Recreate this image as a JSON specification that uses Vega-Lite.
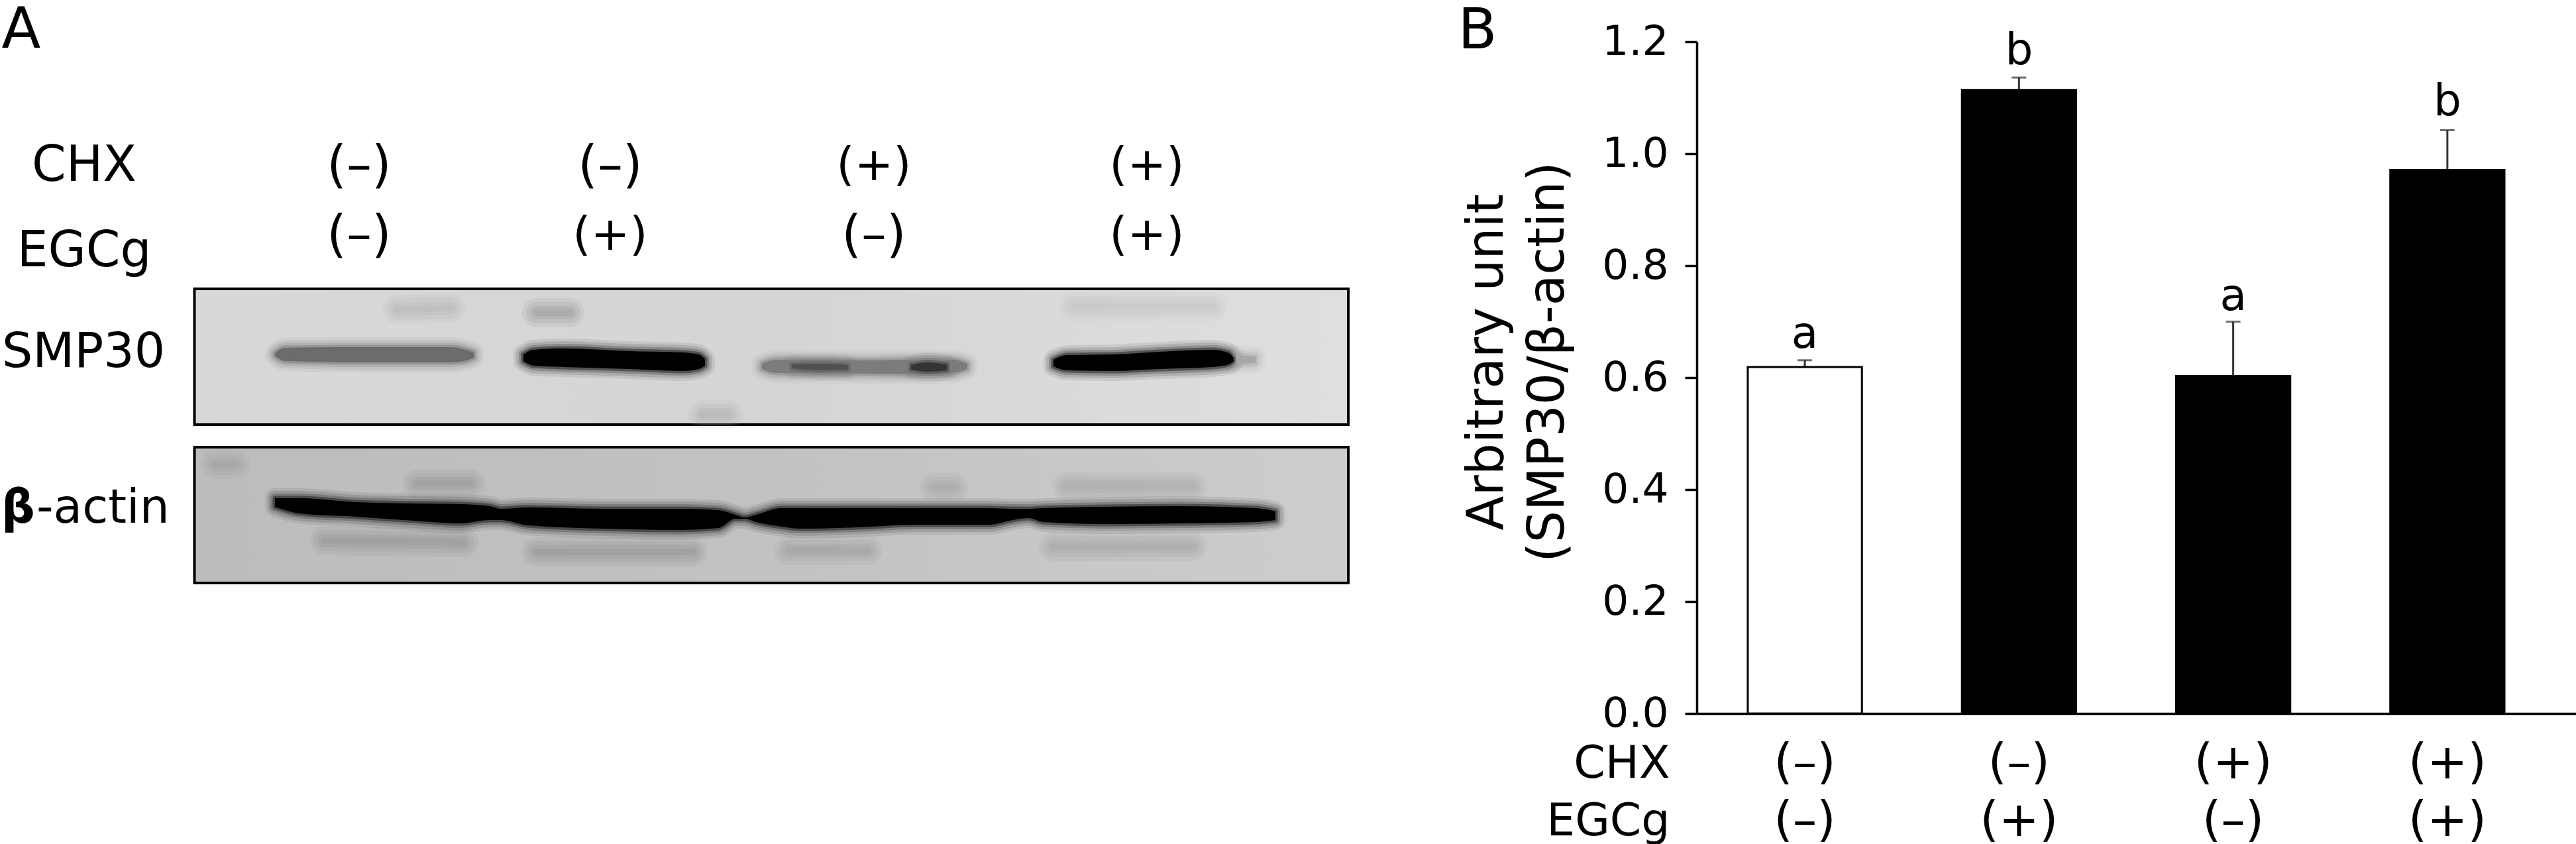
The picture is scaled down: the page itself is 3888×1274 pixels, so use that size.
{
"$schema":"https://vega.github.io/schema/vega-lite/v6.json",
"padding":0,"background":"white","spacing":261,"bounds":"flush",
"config":{"font":"DejaVu Sans","view":{"stroke":null}},
"datasets":{
"panelSmp":[{"x0":29.35,"x1":203.5,"y0":43.6,"y1":64.1}],
"panelActin":[{"x0":29.35,"x1":203.5,"y0":67.5,"y1":88.0}],
"patches":[
{"name":"smpSmear1","x":60,"mid":46.7},{"name":"smpSmear1","x":68,"mid":46.5},
{"name":"smpSmear2","x":81,"mid":47.2},{"name":"smpSmear2","x":86,"mid":47.2},
{"name":"smpSmear3","x":106,"mid":62.6},{"name":"smpSmear3","x":110,"mid":62.6},
{"name":"smpSmear4","x":162,"mid":46.3},{"name":"smpSmear4","x":183,"mid":46.3},
{"name":"actinSmear1","x":49,"mid":81.6},{"name":"actinSmear1","x":70,"mid":81.9},
{"name":"actinSmear2","x":81,"mid":83.3},{"name":"actinSmear2","x":104.5,"mid":83.3},
{"name":"actinSmear3","x":119,"mid":83.1},{"name":"actinSmear3","x":131,"mid":83.1},
{"name":"actinSmear4","x":159,"mid":82.5},{"name":"actinSmear4","x":180,"mid":82.5},
{"name":"actinSmear5","x":63,"mid":73},{"name":"actinSmear5","x":71,"mid":73},
{"name":"actinSmear6","x":141,"mid":73.6},{"name":"actinSmear6","x":144,"mid":73.6},
{"name":"actinSmear7","x":161,"mid":73.4},{"name":"actinSmear7","x":180,"mid":73.4},
{"name":"actinSmear8","x":32.5,"mid":70.1},{"name":"actinSmear8","x":35.5,"mid":70.1}],
"bands":[
{"name":"smp1","x":41.5,"top":53.3,"bottom":53.7},{"name":"smp1","x":43,"top":52.5,"bottom":54.5},{"name":"smp1","x":55,"top":52.4,"bottom":54.7},{"name":"smp1","x":68,"top":52.4,"bottom":54.7},{"name":"smp1","x":70,"top":52.7,"bottom":54.5},{"name":"smp1","x":71.5,"top":53.2,"bottom":54},
{"name":"smp2","x":79,"top":53.5,"bottom":54.5},{"name":"smp2","x":80.5,"top":52.8,"bottom":55.2},{"name":"smp2","x":85,"top":52.6,"bottom":55.4},{"name":"smp2","x":95,"top":53,"bottom":55.7},{"name":"smp2","x":103,"top":53.2,"bottom":56},{"name":"smp2","x":105.5,"top":53.5,"bottom":55.7},{"name":"smp2","x":106.4,"top":54.2,"bottom":55.2},
{"name":"smp3","x":115,"top":54.9,"bottom":55.7},{"name":"smp3","x":117,"top":54.3,"bottom":56.3},{"name":"smp3","x":130,"top":54.4,"bottom":56.4},{"name":"smp3","x":138,"top":54.3,"bottom":56.5},{"name":"smp3","x":144,"top":54.3,"bottom":56.3},{"name":"smp3","x":146,"top":54.9,"bottom":55.7},
{"name":"smp3a","x":119.5,"top":55,"bottom":55.6},{"name":"smp3a","x":124,"top":54.9,"bottom":55.9},{"name":"smp3a","x":128,"top":55.1,"bottom":55.8},
{"name":"smp3b","x":137.5,"top":55.1,"bottom":55.8},{"name":"smp3b","x":140,"top":54.7,"bottom":56.1},{"name":"smp3b","x":143,"top":55,"bottom":55.9},
{"name":"smp4tail","x":186,"top":53.5,"bottom":55},{"name":"smp4tail","x":189.5,"top":53.8,"bottom":54.8},
{"name":"smp4","x":159,"top":54.3,"bottom":55.3},{"name":"smp4","x":161,"top":53.6,"bottom":55.9},{"name":"smp4","x":168,"top":53.5,"bottom":56},{"name":"smp4","x":175,"top":53.1,"bottom":55.7},{"name":"smp4","x":183,"top":52.8,"bottom":55.4},{"name":"smp4","x":185.5,"top":53.3,"bottom":55},{"name":"smp4","x":186.2,"top":54,"bottom":54.6},
{"name":"actin","x":41.5,"top":75.2,"bottom":76.5},{"name":"actin","x":45.2,"top":75.2,"bottom":77.5},{"name":"actin","x":53.8,"top":75.8,"bottom":78},{"name":"actin","x":62.4,"top":76,"bottom":78.6},{"name":"actin","x":69.3,"top":76.1,"bottom":79},{"name":"actin","x":73.9,"top":76.4,"bottom":78.5},{"name":"actin","x":75.6,"top":76.8,"bottom":78.5},{"name":"actin","x":79.7,"top":76.6,"bottom":79.3},{"name":"actin","x":91.1,"top":76.8,"bottom":79.8},{"name":"actin","x":102.6,"top":76.8,"bottom":80},{"name":"actin","x":108.4,"top":77,"bottom":79.7},{"name":"actin","x":111,"top":77.7,"bottom":78.3},{"name":"actin","x":112.4,"top":78.1,"bottom":78.3},{"name":"actin","x":114.1,"top":77.7,"bottom":78.8},{"name":"actin","x":118,"top":76.7,"bottom":79.5},{"name":"actin","x":120.7,"top":76.7,"bottom":79.8},{"name":"actin","x":129.4,"top":76.7,"bottom":79.6},{"name":"actin","x":138,"top":76.7,"bottom":79.2},{"name":"actin","x":149.4,"top":76.7,"bottom":79.2},{"name":"actin","x":152.9,"top":76.8,"bottom":78.5},{"name":"actin","x":155.2,"top":76.8,"bottom":78.2},{"name":"actin","x":157.5,"top":76.7,"bottom":78.8},{"name":"actin","x":166.7,"top":76.5,"bottom":79.1},{"name":"actin","x":178.1,"top":76.4,"bottom":79},{"name":"actin","x":189.6,"top":76.7,"bottom":78.8},{"name":"actin","x":192.5,"top":77.2,"bottom":78.5}],
"bars":[
{"group":"(–)|(–)","kind":"control","mean":0.619,"upper":0.631,"letter":"a","letterAt":0.677},
{"group":"(–)|(+)","kind":"treated","mean":1.114,"upper":1.136,"letter":"b","letterAt":1.184},
{"group":"(+)|(–)","kind":"treated","mean":0.603,"upper":0.70,"letter":"a","letterAt":0.744},
{"group":"(+)|(+)","kind":"treated","mean":0.971,"upper":1.042,"letter":"b","letterAt":1.092}],
"panelLetters":[{"text":"A","x":3.2,"y":7.2},{"text":"B","x":223,"y":7.3}],
"rowLabels":[{"text":"CHX","x":12.7,"y":25.1},{"text":"EGCg","x":12.7,"y":38}],
"dashLabels":[
{"text":"(–)","x":54.2,"y":25.1},{"text":"(–)","x":92.1,"y":25.1},
{"text":"(–)","x":54.2,"y":35.6},{"text":"(–)","x":131.9,"y":35.6}],
"plusLabels":[
{"text":"(+)","x":131.9,"y":25.1},{"text":"(+)","x":173.1,"y":25.1},
{"text":"(+)","x":92.1,"y":35.6},{"text":"(+)","x":173.1,"y":35.6}],
"smpLabel":[{"text":"SMP30","x":0.3,"y":53.2}],
"actinLabel":[{"text":"-actin","x":5.5,"y":76.8}],
"betaLabel":[{"text":"β","x":0.2,"y":76.8}]
},
"hconcat":[
{"width":2300,"height":1274,
"encoding":{
 "x":{"field":"x","type":"quantitative","scale":{"domain":[0,230],"nice":false,"zero":false},"axis":null},
 "y":{"field":"y","type":"quantitative","scale":{"domain":[127.4,0],"nice":false,"zero":false},"axis":null},
 "text":{"field":"text"}},
"layer":[
{"data":{"name":"panelSmp"},"mark":{"type":"rect","stroke":"black","strokeWidth":4,"fill":{"gradient":"linear","x1":0,"x2":1,"y1":0,"y2":0,"stops":[{"offset":0,"color":"#d8d8d8"},{"offset":0.5,"color":"#d5d5d5"},{"offset":1,"color":"#dfdfdf"}]}},
 "encoding":{"x":{"field":"x0","type":"quantitative","scale":{"domain":[0,230],"nice":false,"zero":false},"axis":null},"x2":{"field":"x1"},
 "y":{"field":"y0","type":"quantitative","scale":{"domain":[127.4,0],"nice":false,"zero":false},"axis":null},"y2":{"field":"y1"},"text":null}},
{"data":{"name":"panelActin"},"mark":{"type":"rect","stroke":"black","strokeWidth":4,"fill":{"gradient":"linear","x1":0,"x2":1,"y1":0,"y2":0,"stops":[{"offset":0,"color":"#bcbcbc"},{"offset":0.5,"color":"#c2c2c2"},{"offset":1,"color":"#cdcdcd"}]}},
 "encoding":{"x":{"field":"x0","type":"quantitative","scale":{"domain":[0,230],"nice":false,"zero":false},"axis":null},"x2":{"field":"x1"},
 "y":{"field":"y0","type":"quantitative","scale":{"domain":[127.4,0],"nice":false,"zero":false},"axis":null},"y2":{"field":"y1"},"text":null}},
{"data":{"name":"patches"},
 "encoding":{"x":{"field":"x","type":"quantitative","scale":{"domain":[0,230],"nice":false,"zero":false},"axis":null},
 "y":{"field":"mid","type":"quantitative","scale":{"domain":[127.4,0],"nice":false,"zero":false},"axis":null},"text":null,
 "stroke":{"field":"name","type":"nominal","legend":null,"scale":{"domain":["smpSmear1","smpSmear2","smpSmear3","smpSmear4","actinSmear1","actinSmear2","actinSmear3","actinSmear4","actinSmear5","actinSmear6","actinSmear7","actinSmear8"],"range":["#ababab","#7c7c7c","#a2a2a2","#bababa","#848484","#808080","#909090","#949494","#8a8a8a","#989898","#9a9a9a","#929292"]}}},
 "layer":[
 {"mark":{"type":"line","strokeWidth":44,"strokeOpacity":0.12,"strokeCap":"round"}},
 {"mark":{"type":"line","strokeWidth":32,"strokeOpacity":0.14,"strokeCap":"round"}},
 {"mark":{"type":"line","strokeWidth":20,"strokeOpacity":0.16,"strokeCap":"round"}},
 {"mark":{"type":"line","strokeWidth":10,"strokeOpacity":0.16,"strokeCap":"round"}}
 ]},
{"data":{"name":"bands"},
 "encoding":{"x":{"field":"x","type":"quantitative","scale":{"domain":[0,230],"nice":false,"zero":false},"axis":null},
 "y":{"field":"top","type":"quantitative","scale":{"domain":[127.4,0],"nice":false,"zero":false},"axis":null},"y2":{"field":"bottom"},"text":null,
 "fill":{"field":"name","type":"nominal","legend":null,"scale":{"domain":["smp1","smp2","smp3","smp3a","smp3b","smp4tail","smp4","actin"],"range":["#6c6c6c","#000000","#7c7c7c","#505050","#343434","#a8a8a8","#000000","#000000"]}},
 "stroke":{"field":"name","type":"nominal","legend":null,"scale":{"domain":["smp1","smp2","smp3","smp3a","smp3b","smp4tail","smp4","actin"],"range":["#6c6c6c","#000000","#7c7c7c","#505050","#343434","#a8a8a8","#000000","#000000"]}}},
 "layer":[
 {"mark":{"type":"area","interpolate":"monotone","fillOpacity":0,"strokeWidth":30,"strokeOpacity":0.08,"strokeJoin":"round"}},
 {"mark":{"type":"area","interpolate":"monotone","fillOpacity":0,"strokeWidth":22,"strokeOpacity":0.12,"strokeJoin":"round"}},
 {"mark":{"type":"area","interpolate":"monotone","fillOpacity":0,"strokeWidth":14,"strokeOpacity":0.2,"strokeJoin":"round"}},
 {"mark":{"type":"area","interpolate":"monotone","fillOpacity":1,"strokeWidth":7,"strokeOpacity":0.4,"strokeJoin":"round"}}
 ]},
{"data":{"name":"panelLetters"},"mark":{"type":"text","align":"center","baseline":"alphabetic","fontSize":86,"color":"black"}},
{"data":{"name":"rowLabels"},"mark":{"type":"text","align":"center","baseline":"middle","fontSize":74,"color":"black"}},
{"data":{"name":"dashLabels"},"mark":{"type":"text","align":"center","baseline":"middle","fontSize":76,"color":"black"}},
{"data":{"name":"plusLabels"},"mark":{"type":"text","align":"center","baseline":"middle","fontSize":70,"color":"black"}},
{"data":{"name":"smpLabel"},"mark":{"type":"text","align":"left","baseline":"middle","fontSize":73,"color":"black"}},
{"data":{"name":"actinLabel"},"mark":{"type":"text","align":"left","baseline":"middle","fontSize":71,"color":"black"}},
{"data":{"name":"betaLabel"},"mark":{"type":"text","align":"left","baseline":"middle","fontSize":71,"fontWeight":"bold","color":"black"}}
],
"resolve":{"scale":{"fill":"independent","stroke":"independent"}}
},
{"width":1327,"height":1274,"data":{"name":"bars"},
"encoding":{
 "x":{"field":"group","type":"nominal","sort":null,
  "scale":{"paddingInner":0.467,"paddingOuter":0.286,"align":0.416},
  "axis":{"orient":"bottom","offset":-197,"domainWidth":3.5,"domainColor":"black","ticks":false,"labelAngle":0,"labelFontSize":73,"labelColor":"black","labelExpr":"split(datum.label,'|')","labelLineHeight":87,"labelPadding":39,"labelBaseline":"top","labelFlush":false,"labelOverlap":false,
   "title":["CHX","EGCg"],"titleFontSize":68,"titleFontWeight":"normal","titleColor":"black","titleAlign":"right","titleAnchor":"start","titleX":-41,"titleY":42,"titleBaseline":"top","titleLineHeight":87}}},
"layer":[
{"mark":{"type":"rule","strokeWidth":3,"color":"#333333"},"encoding":{"y":{"field":"mean","type":"quantitative"},"y2":{"field":"upper"}}},
{"mark":{"type":"tick","orient":"horizontal","size":22,"thickness":3,"color":"#333333"},"encoding":{"y":{"field":"upper","type":"quantitative"}}},
{"mark":{"type":"bar","stroke":"black","strokeWidth":3},
 "encoding":{"y":{"field":"mean","type":"quantitative",
  "scale":{"domain":[0,1.2],"range":[1077,63],"nice":false},
  "axis":{"values":[0,0.2,0.4,0.6,0.8,1.0,1.2],"format":".1f","grid":false,"domainWidth":3.5,"domainColor":"black","tickColor":"black","tickWidth":3.5,"tickSize":18,"labelFontSize":63,"labelColor":"black","labelPadding":25,
   "title":["Arbitrary unit","(SMP30/β-actin)"],"titleFontSize":76,"titleFontWeight":"normal","titleColor":"black","titleAnchor":"middle","titleX":-317,"titleY":546,"titleLineHeight":92,"titleBaseline":"middle","titleAngle":-90}},
  "fill":{"field":"kind","type":"nominal","legend":null,"scale":{"domain":["control","treated"],"range":["white","black"]}}}},
{"mark":{"type":"text","fontSize":66,"baseline":"middle","color":"black"},"encoding":{"y":{"field":"letterAt","type":"quantitative"},"text":{"field":"letter"}}}
]}
]}
